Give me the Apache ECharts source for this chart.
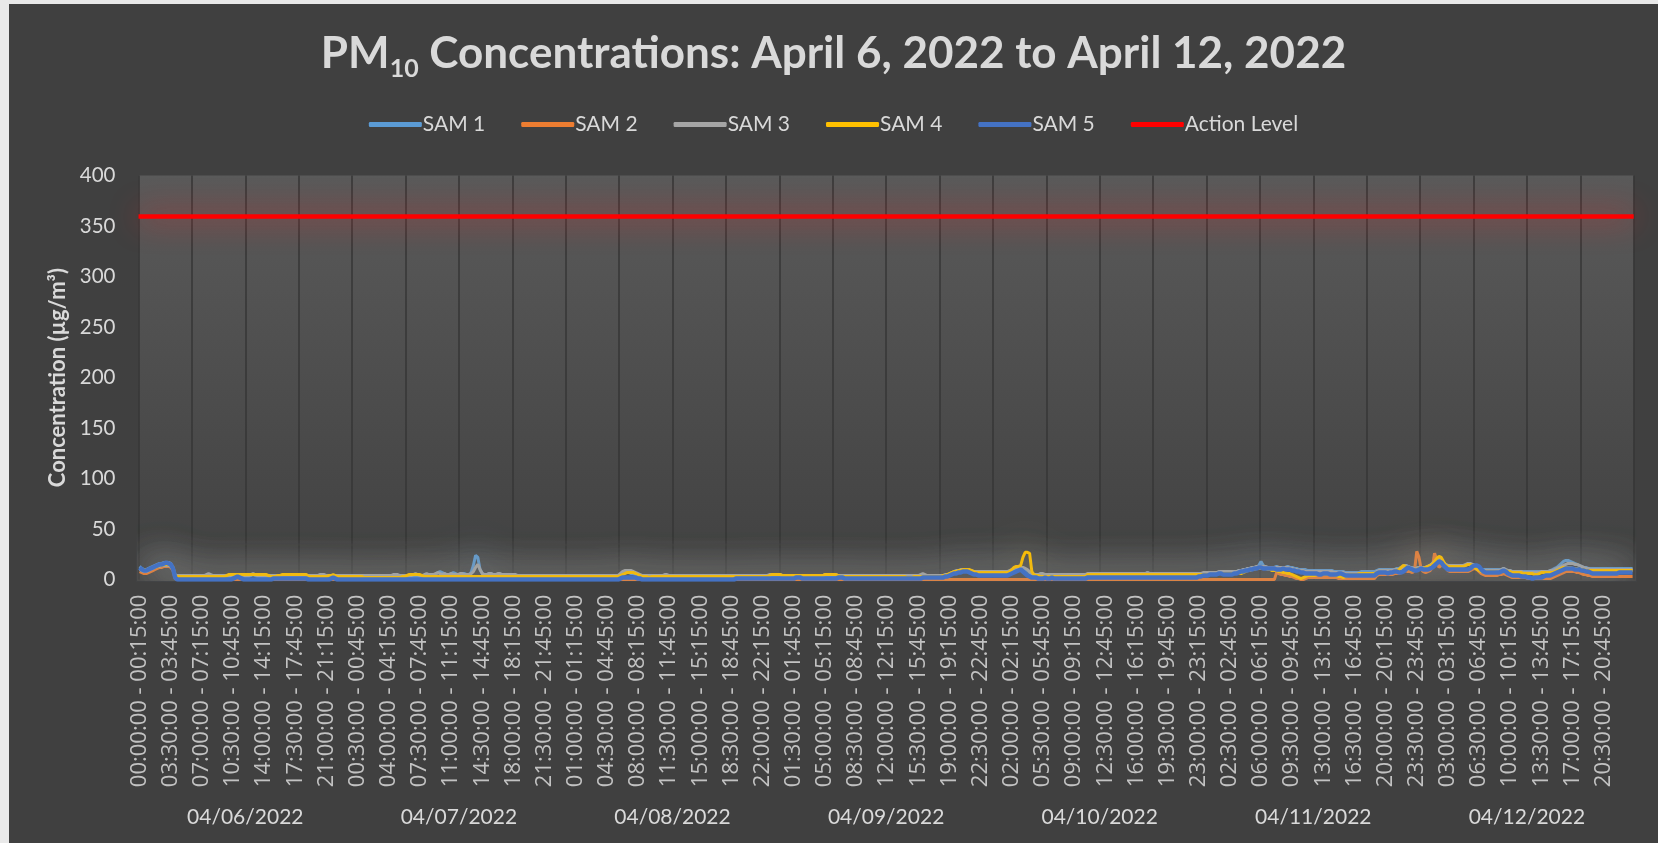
<!DOCTYPE html>
<html>
<head>
<meta charset="utf-8">
<script src="https://cdn.jsdelivr.net/npm/echarts@6/dist/echarts.min.js"></script>
<style>
html,body{margin:0;padding:0;background:#e9e9e9;width:1658px;height:843px;overflow:hidden;}
#chart{position:absolute;left:9px;top:4px;width:1649px;height:839px;background:#404040;}
</style>
</head>
<body>
<div id="chart"></div>
<script>
// ---- data ----
const dates = ['04/06/2022','04/07/2022','04/08/2022','04/09/2022','04/10/2022','04/11/2022','04/12/2022'];
const seriesNames = ['SAM 1','SAM 2','SAM 3','SAM 4','SAM 5','Action Level'];
const actionLevel = 360;
const yTicks = {min: 0, max: 400, step: 50};

const sam1 = [
13,11,10,10,11,12, 13,14,15,16,16,17, 17,17,16,12,4,3, 3,3,3,3,3,3,
3,3,3,3,3,3, 3,3,3,3,3,3, 3,3,3,3,3,3, 4,4,3,3,3,3,
3,3,4,5,4,3, 3,3,3,3,3,3, 3,4,3,3,3,3, 3,3,3,3,4,3,
3,3,3,3,3,3, 3,3,3,4,4,3, 3,3,3,3,3,3, 3,3,3,3,3,3,
3,3,3,3,3,3, 3,3,3,3,3,3, 3,3,3,3,3,3, 4,4,4,3,3,3,
3,3,3,3,3,3, 3,3,3,3,3,3, 4,5,7,8,7,6, 5,5,6,7,6,5,
5,6,6,5,5,7, 14,24,22,10,6,5, 5,6,6,5,4,5, 4,4,4,4,4,4,
4,4,4,4,4,4, 4,4,4,4,4,4, 4,4,4,4,4,4, 4,4,4,4,4,4,
3,3,3,3,3,3, 3,3,3,3,3,3, 3,3,3,3,3,3, 3,3,3,3,3,3,
5,6,7,7,7,6, 6,5,4,3,3,3, 3,3,3,3,3,3, 3,3,3,3,3,3,
3,3,3,3,3,3, 3,3,3,3,3,3, 3,3,3,3,3,3, 3,3,3,3,3,3,
3,3,3,3,3,3, 3,3,3,3,3,3, 3,3,3,3,3,3, 3,4,4,4,4,4,
4,3,3,3,3,3, 3,3,3,3,3,3, 3,3,3,3,3,3, 3,3,4,4,4,4,
4,4,3,3,3,3, 3,3,3,3,3,3, 3,3,3,3,3,3, 3,3,3,3,3,3,
3,3,3,3,3,3, 3,3,3,3,3,3, 3,3,3,3,3,4, 3,3,3,3,3,3,
3,3,4,4,5,6, 7,8,8,9,9,9, 9,9,8,7,7,7, 7,7,7,7,7,7,
7,7,7,7,7,7, 7,8,9,10,11,11, 11,11,10,9,7,5, 4,4,5,6,5,4,
4,4,4,4,4,4, 4,4,4,4,4,4, 4,4,4,4,4,4, 5,5,5,5,5,5,
5,5,5,5,5,5, 5,5,5,5,5,5, 5,5,5,5,5,5, 5,5,6,7,6,5,
5,5,5,5,5,5, 5,5,5,5,5,5, 5,5,5,5,5,5, 5,5,5,5,6,6,
6,6,7,7,7,7, 8,8,8,8,8,8, 8,8,9,9,10,10, 11,11,12,12,12,14,
18,14,12,12,12,12, 12,13,12,12,12,12, 13,12,12,11,11,10, 10,10,10,9,9,9,
9,9,9,9,9,9, 9,9,9,8,8,8, 8,8,7,7,7,7, 7,7,7,8,8,8,
8,8,8,8,9,10, 10,10,10,10,10,10, 10,11,11,12,13,14, 13,12,12,12,12,12,
12,12,12,13,14,15, 17,19,20,19,16,14, 13,13,13,13,13,13, 13,13,14,15,15,15,
14,13,12,10,10,10, 10,10,10,10,10,10, 10,11,10,9,9,8, 8,8,8,8,8,8,
8,8,8,8,8,8, 8,8,8,8,9,10, 11,12,14,16,18,19, 19,18,17,16,15,14,
13,12,12,11,11,11, 11,11,11,11,11,11, 11,11,11,11,11,11, 11,11,11,11,11,11
];

const sam2 = [
8,7,6,6,7,8, 9,10,11,12,12,13, 13,13,12,9,1,0, 0,0,0,0,0,0,
0,0,0,0,0,0, 0,0,0,0,0,0, 0,0,0,0,0,0, 0,0,0,0,0,0,
0,0,0,0,0,0, 0,0,0,0,0,0, 0,0,0,0,0,0, 0,0,0,0,0,0,
0,0,0,0,0,0, 0,0,0,0,0,0, 0,0,0,0,0,0, 0,0,0,0,0,0,
0,0,0,0,0,0, 0,0,0,0,0,0, 0,0,0,0,0,0, 0,0,0,0,0,0,
0,0,0,0,0,0, 0,0,0,0,0,0, 0,0,0,0,0,0, 0,0,0,0,0,0,
0,0,0,0,0,0, 0,0,0,0,0,0, 0,0,0,0,0,0, 0,0,0,0,0,0,
0,0,0,0,0,0, 0,0,0,0,0,0, 0,0,0,0,0,0, 0,0,0,0,0,0,
0,0,0,0,0,0, 0,0,0,0,0,0, 0,0,0,0,0,0, 0,0,0,0,0,0,
0,0,0,0,0,0, 0,0,0,0,0,0, 0,0,0,0,0,0, 0,0,0,0,0,0,
0,0,0,0,0,0, 0,0,0,0,0,0, 0,0,0,0,0,0, 0,0,0,0,0,0,
0,0,0,0,0,0, 0,0,0,0,0,0, 0,0,0,0,0,0, 0,0,0,0,0,0,
0,0,0,0,0,0, 0,0,0,0,0,0, 0,0,0,0,0,0, 0,0,0,0,0,0,
0,0,0,0,0,0, 0,0,0,0,0,0, 0,0,0,0,0,0, 0,0,0,0,0,0,
0,0,0,0,0,0, 0,0,0,0,0,0, 0,0,0,0,0,0, 0,0,0,0,0,0,
0,0,0,0,0,0, 0,0,0,0,0,0, 0,0,0,0,0,0, 0,0,0,0,0,0,
0,0,0,0,0,0, 0,0,0,0,0,0, 0,0,0,0,0,0, 0,0,0,0,0,0,
0,0,0,0,0,0, 0,0,0,0,0,0, 0,0,0,0,0,0, 0,0,0,0,0,0,
0,0,0,0,0,0, 0,0,0,0,0,0, 0,0,0,0,0,0, 0,0,0,0,0,0,
0,0,0,0,0,0, 0,0,0,0,0,0, 0,0,0,0,0,0, 0,0,0,0,0,0,
0,0,0,0,0,0, 0,0,0,0,0,0, 0,0,0,0,0,0, 0,0,0,0,0,0,
0,0,0,0,0,0, 0,7,6,5,5,4, 4,3,3,2,1,1, 0,0,1,2,2,2,
2,2,2,2,2,2, 2,2,2,2,2,1, 1,1,1,1,1,1, 1,1,1,1,1,1,
1,1,1,1,4,5, 5,5,5,5,5,5, 6,6,6,7,8,9, 8,8,7,9,28,22,
10,8,7,8,9,12, 26,20,12,14,16,12, 9,8,8,8,8,8, 8,8,8,8,9,10,
11,10,8,6,5,4, 4,4,4,4,4,5, 5,6,5,4,3,2, 2,2,2,2,2,2,
1,1,1,1,1,1, 1,1,1,1,1,2, 3,4,5,6,7,8, 8,8,8,8,7,7,
6,5,5,4,4,3, 3,3,3,3,3,3, 3,3,3,3,3,3, 3,3,3,3,3,3
];

const sam3 = [
10,9,8,8,9,10, 11,12,13,13,14,14, 14,14,13,10,4,4, 4,4,4,4,4,4,
4,4,4,4,4,4, 5,6,5,4,4,4, 4,4,4,4,4,4, 4,5,4,4,4,4,
4,4,5,6,5,4, 4,4,4,4,4,4, 4,4,4,4,4,4, 4,4,4,4,4,4,
4,4,4,4,4,4, 4,4,4,5,5,5, 4,4,4,4,4,4, 4,4,4,4,4,4,
4,4,4,4,4,4, 4,4,4,4,4,4, 4,4,4,4,4,4, 5,5,5,4,4,4,
4,4,4,5,6,5, 4,4,5,6,5,5, 5,6,7,6,5,6, 5,5,6,5,5,5,
6,6,5,5,5,6, 8,12,15,10,6,5, 5,6,6,5,5,6, 6,5,5,5,5,5,
5,5,4,4,4,4, 4,4,4,4,4,4, 4,4,4,4,4,4, 4,4,4,4,4,4,
4,4,4,4,4,4, 4,4,4,4,4,4, 4,4,4,4,4,4, 4,4,4,4,4,4,
6,8,9,9,9,9, 8,7,6,5,4,4, 4,4,4,4,4,4, 4,4,5,5,4,4,
4,4,4,4,4,4, 4,4,4,4,4,4, 4,4,4,4,4,4, 4,4,4,4,4,4,
4,4,4,4,4,4, 4,4,4,4,4,4, 4,4,4,4,4,4, 4,5,5,5,5,5,
5,4,4,4,4,4, 4,4,4,4,4,4, 4,4,4,4,4,4, 4,4,5,5,5,5,
5,5,4,4,4,4, 4,4,4,4,4,4, 4,4,4,4,4,4, 4,4,4,4,4,4,
4,4,4,4,4,4, 4,4,4,4,4,4, 4,4,4,5,6,5, 4,4,4,4,4,4,
4,4,5,5,6,7, 8,9,9,10,10,10, 10,9,9,8,8,8, 8,8,8,8,8,8,
8,8,8,8,8,8, 8,9,10,11,12,12, 12,12,11,10,8,6, 5,5,5,6,6,5,
5,5,5,5,5,5, 5,5,5,5,5,5, 5,5,5,5,5,5, 6,6,6,6,6,6,
6,6,6,6,6,6, 6,6,6,6,6,6, 6,6,6,6,6,6, 6,6,6,7,6,6,
6,6,6,6,6,6, 6,6,6,6,6,6, 6,6,6,6,6,6, 6,6,6,6,7,7,
7,7,7,7,7,8, 8,8,8,8,8,8, 8,8,9,9,10,10, 11,11,12,12,13,13,
13,13,13,12,12,12, 12,12,12,12,12,12, 12,11,11,10,10,9, 9,9,8,8,8,8,
8,8,8,8,8,8, 8,8,8,7,7,7, 7,7,6,6,6,6, 6,6,6,6,6,6,
6,6,6,6,8,9, 9,9,9,9,9,9, 10,10,10,11,12,14, 13,12,11,11,11,12,
12,12,12,13,14,16, 18,20,21,20,17,15, 14,14,14,14,14,14, 14,14,15,16,16,15,
14,12,11,10,9,9, 9,9,9,9,9,9, 10,11,10,9,9,8, 8,8,8,8,7,7,
7,7,7,7,7,7, 8,8,8,8,9,9, 10,11,12,13,14,15, 16,16,16,15,15,14,
13,12,11,11,10,10, 10,10,10,10,10,10, 10,10,10,10,10,10, 10,10,10,10,10,10
];

const sam4 = [
11,10,10,10,10,11, 12,12,13,14,14,15, 15,15,14,12,4,3, 3,3,3,3,3,3,
3,3,3,3,3,3, 3,3,3,3,3,3, 3,3,3,4,5,5, 5,5,5,5,5,5,
5,5,5,5,5,5, 5,5,5,5,4,3, 3,3,4,4,5,5, 5,5,5,5,5,5,
5,5,5,5,3,3, 3,3,3,3,3,3, 3,4,4,5,4,3, 3,3,3,3,3,3,
3,3,3,3,3,2, 2,2,2,2,2,2, 2,2,2,2,2,2, 2,2,2,2,3,3,
4,5,5,5,5,5, 5,4,3,3,3,3, 3,3,3,3,3,3, 3,3,3,3,3,3,
3,3,3,3,3,3, 3,3,3,3,3,3, 3,3,3,3,3,3, 3,3,3,3,3,3,
3,3,3,3,3,3, 3,3,3,3,3,3, 3,3,3,3,3,3, 3,3,3,3,3,3,
3,3,3,3,3,3, 3,3,3,3,3,3, 3,3,3,3,3,3, 3,3,3,3,3,3,
4,5,6,7,7,7, 7,6,5,4,3,3, 3,2,3,3,3,3, 3,3,3,3,3,3,
3,3,3,3,3,3, 3,3,3,3,3,3, 3,3,3,3,3,3, 3,3,3,3,3,3,
3,3,3,3,3,3, 3,3,3,3,3,3, 3,3,3,3,3,3, 3,4,5,5,5,5,
5,4,4,4,4,4, 4,4,4,4,4,4, 4,4,4,4,4,4, 4,4,5,5,5,5,
5,5,4,3,3,3, 3,3,3,3,3,3, 3,3,3,3,3,3, 3,3,3,3,3,3,
3,3,3,3,3,3, 3,3,3,2,2,2, 3,3,3,3,3,3, 3,3,3,3,3,3,
3,4,4,5,6,7, 8,8,9,9,10,10, 10,10,9,8,7,7, 7,7,7,7,7,7,
7,7,7,7,7,7, 7,8,10,12,13,13, 14,22,27,27,26,8, 5,4,4,3,3,3,
3,3,3,3,3,3, 3,3,3,3,3,3, 3,3,3,3,3,3, 5,5,5,5,5,5,
5,5,5,5,5,5, 5,5,5,5,5,5, 5,5,5,5,5,5, 5,5,5,5,5,5,
5,5,5,5,5,5, 5,5,5,5,5,5, 5,5,5,5,5,5, 5,5,5,5,5,5,
5,5,5,5,5,6, 6,6,6,6,6,6, 6,6,6,6,7,8, 9,9,10,10,11,11,
11,11,11,10,10,9, 9,9,8,8,7,7, 6,6,5,4,3,2, 1,2,3,4,4,4,
4,5,5,5,5,5, 5,5,5,5,4,3, 3,2,3,4,5,5, 5,5,6,6,6,6,
6,6,6,6,7,7, 7,7,7,7,7,7, 8,9,10,12,14,13, 11,10,9,10,10,11,
11,11,12,13,14,15, 18,21,23,22,18,14, 13,13,13,13,13,13, 13,13,14,15,15,14,
12,10,9,8,8,8, 8,8,8,8,7,7, 8,9,9,8,8,7, 7,7,7,7,6,6,
6,6,6,5,5,6, 7,7,7,7,7,7, 8,9,10,11,12,12, 12,12,11,11,11,10,
10,10,9,9,9,9, 9,9,9,9,9,9, 9,9,9,9,9,9, 9,9,9,9,9,9
];

const sam5 = [
12,10,9,9,10,11, 12,13,14,15,15,16, 17,16,15,11,2,0, 0,0,0,0,0,0,
0,0,0,0,0,0, 0,0,0,0,0,0, 0,0,0,0,0,0, 1,2,3,2,1,0,
0,0,0,0,0,0, 0,0,0,0,0,0, 1,1,1,1,1,1, 1,1,1,1,1,1,
1,1,1,1,0,0, 0,0,0,0,0,0, 0,0,1,2,1,0, 0,0,0,0,0,0,
0,0,0,0,0,0, 0,0,0,0,0,0, 0,0,0,0,0,0, 0,0,0,0,0,0,
0,0,0,0,0,0, 0,0,0,0,0,0, 0,0,0,0,0,0, 0,0,0,0,0,0,
0,0,0,0,0,0, 0,0,0,0,0,0, 0,0,0,0,0,0, 0,0,0,0,0,0,
0,0,0,0,0,0, 0,0,0,0,0,0, 0,0,0,0,0,0, 0,0,0,0,0,0,
0,0,0,0,0,0, 0,0,0,0,0,0, 0,0,0,0,0,0, 0,0,0,0,0,0,
1,2,2,2,2,2, 2,2,1,1,0,0, 0,0,0,0,0,0, 0,0,0,0,0,0,
0,0,0,0,0,0, 0,0,0,0,0,0, 0,0,0,0,0,0, 0,0,0,0,0,0,
0,0,0,0,1,1, 1,1,1,1,1,1, 1,1,1,1,1,1, 1,1,1,1,1,1,
1,1,1,1,1,1, 1,2,2,2,1,1, 1,1,1,1,1,1, 1,1,1,1,1,1,
1,1,2,2,2,1, 1,1,1,1,1,1, 1,1,1,1,1,1, 1,1,1,1,1,1,
1,1,1,1,1,1, 1,1,1,1,1,1, 1,1,1,1,2,2, 2,2,2,2,2,2,
2,2,3,3,4,5, 6,6,7,7,8,8, 8,7,6,5,5,4, 4,4,4,4,4,4,
4,4,4,4,4,4, 4,5,6,7,8,9, 10,8,6,4,3,2, 2,2,1,1,1,2,
1,1,2,1,1,1, 1,1,1,1,1,1, 1,1,1,1,1,1, 2,2,2,2,2,2,
2,2,2,2,2,2, 2,2,2,2,2,2, 2,2,2,2,2,2, 2,2,2,2,2,2,
2,2,2,2,2,2, 2,2,2,2,2,2, 2,2,2,2,2,2, 2,2,3,3,4,4,
4,5,5,5,5,6, 6,5,5,5,5,5, 6,6,7,8,8,9, 9,10,10,11,11,12,
12,11,11,11,11,11, 11,10,10,10,11,10, 10,10,9,9,8,8, 7,7,6,6,6,6,
6,6,5,5,6,6, 6,5,5,5,5,6, 6,5,4,4,4,4, 4,4,4,4,4,4,
4,4,4,4,6,7, 7,7,7,6,7,7, 8,8,7,7,8,10, 12,11,10,9,9,10,
11,10,10,10,11,12, 14,16,18,17,14,12, 10,10,10,10,10,10, 10,10,10,10,11,13,
14,14,13,10,8,7, 7,7,7,7,7,7, 8,9,8,6,5,4, 4,4,4,3,3,3,
2,2,1,2,2,2, 2,3,4,4,4,5, 6,7,8,9,10,11, 11,11,11,10,10,10,
9,9,8,8,7,6, 6,6,6,6,6,6, 6,6,6,6,6,7, 7,7,7,7,7,7
];

const colors = ['#5B9BD5','#ED7D31','#A5A5A5','#FFC000','#4472C4','#FF0000'];
const glow = ['rgba(120,160,200,1)','rgba(200,150,110,1)','rgba(170,170,160,1)','rgba(200,185,120,1)','rgba(110,130,170,1)'];

// ---- category labels (15-minute intervals) ----
function hhmm(m){ m = m % 1440; const h = Math.floor(m/60), mm = m%60; return String(h).padStart(2,'0')+':'+String(mm).padStart(2,'0')+':00'; }
const categories = [];
dates.forEach(function(){ for (let s = 0; s < 96; s++) categories.push(hhmm(s*15) + ' - ' + hhmm(s*15+15)); });

const chart = echarts.init(document.getElementById('chart'), null, {renderer:'canvas'});
const FONT = 'Lato, "Open Sans", sans-serif';
const TXT = '#d9d9d9';
const samData = [sam1, sam2, sam3, sam4, sam5];

const series = samData.map(function(d, k){
  return {
    name: seriesNames[k], type: 'line', data: d, symbol: 'none', showSymbol: false,
    color: colors[k],
    lineStyle: {width: k === 4 ? 4.5 : 3, color: colors[k], shadowBlur: 36, shadowColor: glow[k]},
    z: 3 + k
  };
});
series.push({
  name: seriesNames[5], type: 'line', data: [], symbol: 'none', color: colors[5],
  lineStyle: {color: colors[5], width: 4},
  markLine: {
    silent: true, symbol: ['none','none'], label: {show: false},
    lineStyle: {color: colors[5], width: 4.5, type: 'solid', shadowBlur: 30, shadowColor: 'rgba(255,30,30,0.95)'},
    data: [{yAxis: actionLevel}]
  },
  z: 10
});

chart.setOption({
  animation: false,
  backgroundColor: '#404040',
  title: {
    left: 'center', top: 18,
    text: '{a|PM}{s|10}{a| Concentrations: April 6, 2022 to April 12, 2022}',
    textStyle: {
      rich: {
        a: {fontSize: 44, fontWeight: 'bold', color: TXT, fontFamily: FONT, lineHeight: 54, verticalAlign: 'middle'},
        s: {fontSize: 25, fontWeight: 'bold', color: TXT, fontFamily: FONT, lineHeight: 25, verticalAlign: 'bottom'}
      }
    }
  },
  legend: {
    data: seriesNames, top: 105, left: 'center',
    icon: 'roundRect', itemWidth: 53, itemHeight: 5, itemGap: 36,
    textStyle: {color: TXT, fontSize: 21, fontFamily: FONT, padding: [0,0,0,-4]}
  },
  grid: {
    left: 129.5, right: 24.3, top: 171.6, bottom: 263.4,
    show: true, borderWidth: 0,
    backgroundColor: new echarts.graphic.LinearGradient(0, 0, 0, 1, [
      {offset: 0, color: '#5a5a5a'}, {offset: 1, color: '#414141'}
    ])
  },
  xAxis: [
    {
      type: 'category', data: categories, boundaryGap: true,
      axisLine: {show: false}, axisTick: {show: false},
      axisLabel: {interval: 13, rotate: 90, color: '#c2c2c2', fontSize: 22, fontFamily: '"Open Sans", sans-serif', margin: 15},
      splitLine: {show: true, interval: 23, lineStyle: {color: '#363636', width: 1.5}}
    },
    {
      type: 'category', data: dates, position: 'bottom', offset: 219, boundaryGap: true,
      axisLine: {show: false}, axisTick: {show: false}, splitLine: {show: false},
      axisLabel: {interval: 0, color: TXT, fontSize: 21, fontFamily: FONT, margin: 8}
    }
  ],
  yAxis: {
    type: 'value', min: yTicks.min, max: yTicks.max, interval: yTicks.step,
    axisLine: {show: false}, axisTick: {show: false}, splitLine: {show: false},
    axisLabel: {color: TXT, fontSize: 20.5, fontFamily: FONT, margin: 23},
    name: 'Concentration (µg/m³)', nameLocation: 'middle', nameGap: 66, nameRotate: 90,
    nameTextStyle: {color: TXT, fontSize: 22, fontWeight: 'bold', fontFamily: FONT}
  },
  series: series
});
</script>
</body>
</html>
